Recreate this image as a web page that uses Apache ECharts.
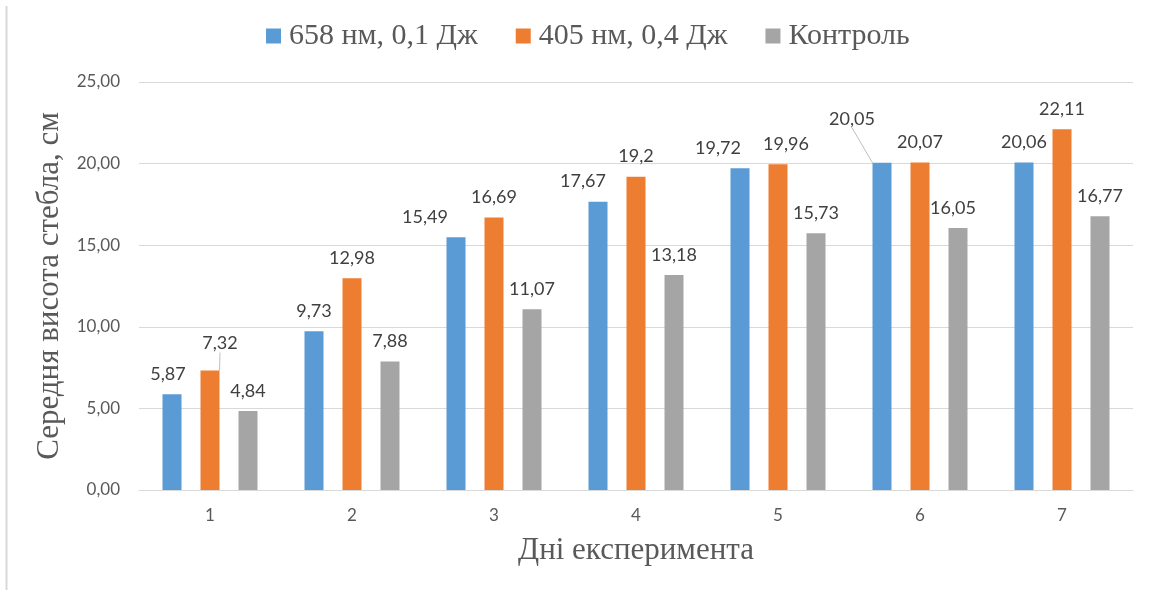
<!DOCTYPE html>
<html>
<head>
<meta charset="utf-8">
<script src="https://cdn.jsdelivr.net/npm/echarts@6/dist/echarts.min.js"></script>
<style>
  html, body { margin: 0; padding: 0; background: #fff; }
  #chart { width: 1150px; height: 590px; }
</style>
</head>
<body>
<div id="chart"></div>
<script>
// Days of the experiment
const days = ['1', '2', '3', '4', '5', '6', '7'];

// Mean stem height, cm
const seriesNames = ['658 нм, 0,1 Дж', '405 нм, 0,4 Дж', 'Контроль'];
const red658 = [5.87, 9.73, 15.49, 17.67, 19.72, 20.05, 20.06];
const violet405 = [7.32, 12.98, 16.69, 19.2, 19.96, 20.07, 22.11];
const control = [4.84, 7.88, 11.07, 13.18, 15.73, 16.05, 16.77];

// Y axis ticks
const yMin = 0, yMax = 25, yStep = 5;

const colors = ['#5b9bd5', '#ed7d31', '#a5a5a5'];

// Small label nudges (px) so the value labels don't collide: [series][day] -> [dx, dy]
const labelNudge = [
  { 0: [-4, 0], 2: [-31, 0], 3: [-15, 0], 4: [-22, 0], 5: [-30, -24] },
  { 0: [10, -7], 4: [8, 0] },
  { 5: [-5, 0] }
];
// Labels that keep a guide line to their bar
const leaderLines = [[5], [0], []];

const fmt = v => String(v).replace('.', ',');
const labelFont = 'Lato, "Open Sans", sans-serif';
const serifFont = '"Liberation Serif", "DejaVu Serif", serif';

function buildSeries(values, idx) {
  return {
    name: seriesNames[idx],
    type: 'bar',
    barWidth: 19,
    barGap: '100%',
    itemStyle: { color: colors[idx] },
    label: {
      show: true,
      position: 'top',
      distance: 11,
      color: '#404040',
      fontFamily: labelFont,
      fontSize: 18,
      formatter: p => fmt(p.value)
    },
    labelLayout: function (params) {
      const n = labelNudge[idx][params.dataIndex];
      return n ? { dx: n[0], dy: n[1] } : {};
    },
    data: values.map((v, i) => leaderLines[idx].includes(i)
      ? { value: v, labelLine: { show: true, lineStyle: { color: '#bfbfbf', width: 1 } } }
      : v),
    emphasis: { disabled: true },
    animation: false
  };
}

const chart = echarts.init(document.getElementById('chart'), null, { renderer: 'canvas' });
chart.setOption({
  backgroundColor: '#ffffff',
  animation: false,
  legend: {
    left: 261,
    top: 16,
    itemWidth: 15,
    itemHeight: 15,
    itemGap: 38,
    icon: 'rect',
    textStyle: { fontFamily: serifFont, fontSize: 30, color: '#595959', padding: [0, 0, 0, 3] },
    data: seriesNames
  },
  grid: { left: 139, right: 17, top: 82, bottom: 100, containLabel: false },
  xAxis: {
    type: 'category',
    data: days,
    name: 'Дні експеримента',
    nameLocation: 'middle',
    nameGap: 45,
    nameTextStyle: { fontFamily: serifFont, fontSize: 31, color: '#595959' },
    axisLine: { lineStyle: { color: '#d9d9d9', width: 1 } },
    axisTick: { show: false },
    axisLabel: { fontFamily: labelFont, fontSize: 17, color: '#595959', margin: 17 }
  },
  yAxis: {
    type: 'value',
    min: yMin,
    max: yMax,
    interval: yStep,
    name: 'Середня висота стебла, см',
    nameLocation: 'middle',
    nameGap: 66,
    nameTextStyle: { fontFamily: serifFont, fontSize: 31, color: '#595959' },
    axisLine: { show: false },
    axisTick: { show: false },
    splitLine: { lineStyle: { color: '#d9d9d9', width: 1 } },
    axisLabel: {
      fontFamily: labelFont, fontSize: 17, color: '#595959', margin: 19,
      formatter: v => v.toFixed(2).replace('.', ',')
    }
  },
  graphic: [{
    type: 'line',
    shape: { x1: 6.5, y1: 6, x2: 6.5, y2: 590 },
    style: { stroke: '#d9d9d9', lineWidth: 2 },
    silent: true
  }],
  series: [
    buildSeries(red658, 0),
    buildSeries(violet405, 1),
    buildSeries(control, 2)
  ]
});
</script>
</body>
</html>
